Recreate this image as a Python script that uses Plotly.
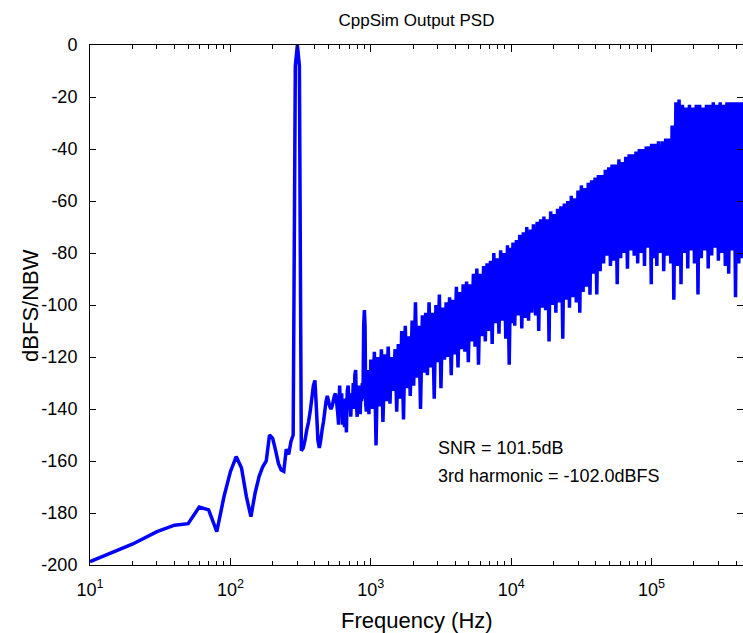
import math
import plotly.graph_objects as go

# ---------------- data ----------------
# 10 Hz FFT bins below 1 kHz
freq_lo = [10, 20, 30, 40, 50, 60, 70, 80, 90, 100,
           110, 120, 130, 140, 150, 160, 170, 180, 190, 200,
           210, 220, 230, 240, 250, 260, 270, 280, 290, 300,
           310, 320, 330, 340, 350, 360, 370, 380, 390, 400,
           410, 420, 430, 440, 450, 460, 470, 480, 490, 500,
           510, 520, 530, 540, 550, 560, 570, 580, 590, 600,
           610, 620, 630, 640, 650, 660, 670, 680, 690, 700,
           710, 720, 730, 740, 750, 760, 770, 780, 790, 800,
           810, 820, 830, 840, 850, 860, 870, 880, 890, 900,
           910, 920, 930, 940, 950, 960, 970, 980, 990]
psd_lo = [-198.7, -192, -187.2, -184.7, -184.1, -177.7, -178.8, -187.2, -173.7, -164.1,
          -158.3, -162.7, -173.7, -181.4, -172.3, -166, -162.2, -160, -150, -151.3,
          -156, -161, -163.5, -164, -155.5, -157.5, -152.5, -150, -8, 0,
          -8, -156, -155, -152, -148, -145, -141, -136, -131, -129,
          -140, -152, -155, -152, -148, -145, -141, -137, -135, -137,
          -139, -140, -139, -137, -135, -134, -137, -141, -146, -131,
          -142, -134, -146, -138, -147, -136, -149, -133, -131, -140,
          -135, -143, -134, -139, -130, -140, -127, -125, -138, -143,
          -132, -140, -131, -142, -134, -137, -130, -136, -108, -102,
          -108, -138, -141, -128, -139, -125, -142, -127, -137]

freq_d3 = [1000, 1030, 1060, 1090, 1120, 1150, 1190, 1220, 1260, 1290,
           1330, 1370, 1400, 1440, 1490, 1530, 1570, 1620, 1660, 1710,
           1760, 1810, 1860, 1910, 1970, 2020, 2080, 2140, 2200, 2260,
           2330, 2390, 2460, 2530, 2600, 2680, 2750, 2830, 2910, 2990,
           3080, 3160, 3250, 3350, 3440, 3540, 3640, 3740, 3850, 3960,
           4070, 4180, 4300, 4420, 4550, 4680, 4810, 4950, 5090, 5230,
           5380, 5530, 5690, 5850, 6020, 6190, 6360, 6540, 6730, 6920,
           7120, 7320, 7520, 7740, 7960, 8180, 8410, 8650, 8900, 9150,
           9410, 9680, 9950]
psd_d3 = [-121, -140, -118, -154, -120, -139, -117, -145, -119, -137,
          -116, -138, -120, -133, -117, -141, -115, -136, -110, -144,
          -108, -132, -112, -135, -106, -131, -99, -128, -108, -140,
          -104, -126, -103, -127, -99, -124, -103, -136, -100, -122,
          -96, -132, -101, -121, -99, -120, -97, -127, -98, -119,
          -93, -124, -95, -117, -92, -118, -91, -122, -92, -114,
          -88, -116, -86, -123, -88, -112, -85, -114, -84, -110,
          -83, -115, -80, -107, -82, -111, -79, -106, -80, -113,
          -77, -123, -78]

freq_d4 = [10000, 10300, 10600, 10900, 11200, 11500, 11900, 12200, 12600, 12900,
           13300, 13700, 14000, 14400, 14900, 15300, 15700, 16200, 16600, 17100,
           17600, 18100, 18600, 19100, 19700, 20200, 20800, 21400, 22000, 22600,
           23300, 23900, 24600, 25300, 26000, 26800, 27500, 28300, 29100, 29900,
           30800, 31600, 32500, 33500, 34400, 35400, 36400, 37400, 38500, 39600,
           40700, 41800, 43000, 44200, 45500, 46800, 48100, 49500, 50900, 52300,
           53800, 55300, 56900, 58500, 60200, 61900, 63600, 65400, 67300, 69200,
           71200, 73200, 75200, 77400, 79600, 81800, 84100, 86500, 89000, 91500,
           94100, 96800, 99500]
psd_d4 = [-107, -76, -108, -75, -104, -73, -109, -72, -105, -70,
          -106, -71, -103, -69, -104, -68, -110, -67, -101, -66,
          -102, -67, -114, -64, -100, -65, -103, -63, -99, -62,
          -113, -61, -98, -60, -101, -58, -97, -59, -99, -56,
          -103, -54, -95, -55, -93, -53, -96, -52, -88, -51,
          -96, -50, -87, -50, -84, -48, -81, -47, -85, -46,
          -83, -46, -92, -44, -82, -45, -80, -43, -86, -42,
          -79, -42, -81, -41, -84, -40, -80, -40, -85, -39,
          -78, -39, -92]

freq_d5 = [100000, 103000, 106000, 109000, 112000, 115000, 119000, 122000, 126000, 129000,
           133000, 137000, 140000, 144000, 149000, 153000, 157000, 162000, 166000, 171000,
           176000, 181000, 186000, 191000, 197000, 202000, 208000, 214000, 220000, 226000,
           233000, 239000, 246000, 253000, 260000, 268000, 275000, 283000, 291000, 299000,
           308000, 316000, 325000, 335000, 344000, 354000, 364000, 374000, 385000, 396000,
           407000, 418000, 430000, 442000, 455000]
psd_d5 = [-38, -82, -38, -85, -37, -80, -37, -87, -36, -81,
          -36, -84, -31, -98, -22, -85, -21, -92, -23, -80,
          -24, -86, -23, -79, -24, -84, -23, -96, -23, -82,
          -24, -79, -23, -86, -23, -81, -22, -78, -23, -83,
          -22, -80, -23, -85, -22, -88, -22, -79, -22, -97,
          -22, -84, -22, -82, -22]

x_tick_vals = [10, 100, 1000, 10000, 100000]
x_tick_text = ["10<sup>1</sup>", "10<sup>2</sup>", "10<sup>3</sup>",
               "10<sup>4</sup>", "10<sup>5</sup>"]
y_tick_vals = [0, -20, -40, -60, -80, -100, -120, -140, -160, -180, -200]
y_tick_text = ["0", "-20", "-40", "-60", "-80", "-100", "-120", "-140",
               "-160", "-180", "-200"]

title_text = "CppSim Output PSD"
x_label = "Frequency (Hz)"
y_label = "dBFS/NBW"
annot_lines = ["SNR = 101.5dB", "3rd harmonic = -102.0dBFS"]
annot_x_hz = 2935
annot_y_db = [-155, -165.8]

freq = freq_lo + freq_d3 + freq_d4 + freq_d5
psd = psd_lo + psd_d3 + psd_d4 + psd_d5
assert len(freq) == len(psd)

# ---------------- figure ----------------
FONT = "Liberation Sans, Arial, Helvetica, sans-serif"
minor_vals = [m * 10 ** d for d in range(1, 6) for m in range(2, 10)]

fig = go.Figure()
fig.add_trace(go.Scatter(x=freq, y=psd, mode="lines",
                         line=dict(color="#0000ff", width=3.5, simplify=False),
                         hoverinfo="skip", showlegend=False))

for txt, yv in zip(annot_lines, annot_y_db):
    fig.add_annotation(x=math.log10(annot_x_hz), y=yv, xref="x", yref="y",
                       text=txt, showarrow=False, xanchor="left", yanchor="middle",
                       font=dict(family=FONT, size=18, color="black"))

# axis titles placed as annotations for exact positioning
fig.add_annotation(x=0.5, y=-0.106, xref="paper", yref="paper", text=x_label,
                   showarrow=False, xanchor="center", yanchor="middle",
                   font=dict(family=FONT, size=22, color="black"))
fig.add_annotation(x=-0.092, y=0.5, xref="paper", yref="paper", text=y_label,
                   showarrow=False, xanchor="center", yanchor="middle", textangle=-90,
                   font=dict(family=FONT, size=22, color="black"))

fig.update_layout(
    width=743, height=633,
    margin=dict(l=90, r=0, t=45, b=68),
    paper_bgcolor="white", plot_bgcolor="white",
    font=dict(family=FONT, color="black"),
    title=dict(text=title_text, x=0.5, xref="paper", xanchor="center",
               y=1 - 20 / 633, yanchor="middle", yref="container",
               font=dict(family=FONT, size=17, color="black")),
    xaxis=dict(type="log", range=[1, 5.651], automargin=False,
               showline=True, linecolor="black", linewidth=1, mirror="ticks",
               ticks="inside", ticklen=7, tickcolor="black", tickwidth=1,
               tickmode="array", tickvals=x_tick_vals, ticktext=x_tick_text,
               ticklabelstandoff=8,
               tickfont=dict(family=FONT, size=18, color="black"),
               minor=dict(tickmode="array", tickvals=minor_vals, ticks="inside",
                          ticklen=4, tickcolor="black", showgrid=False),
               showgrid=False, zeroline=False),
    yaxis=dict(range=[-200, 0], automargin=False,
               showline=True, linecolor="black", linewidth=1, mirror="ticks",
               ticks="inside", ticklen=6, tickcolor="black", tickwidth=1,
               tickmode="array", tickvals=y_tick_vals, ticktext=y_tick_text,
               ticklabelstandoff=8,
               tickfont=dict(family=FONT, size=18, color="black"),
               showgrid=False, zeroline=False),
)

fig.write_html("out.html",
               config={"displayModeBar": False},
               post_script="document.body.style.margin='0px';"
                           "document.body.style.overflow='hidden';")
